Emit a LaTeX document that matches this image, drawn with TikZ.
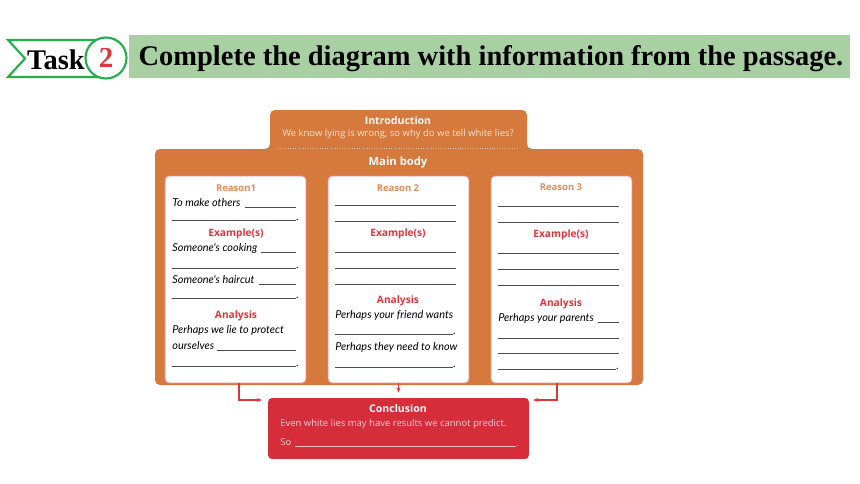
\documentclass[tikz,border=0pt]{standalone}
\usepackage{fontspec}
\setmainfont{Liberation Serif}
\setsansfont{Open Sans}
\newfontfamily\handfont{Lato}
\usetikzlibrary{arrows.meta}
\definecolor{bodyor}{HTML}{D5793D}
\definecolor{conred}{HTML}{D52E3A}
\definecolor{reaor}{HTML}{E38C55}
\definecolor{exred}{HTML}{E0353F}
\definecolor{taskgreen}{HTML}{22B04B}
\definecolor{titlebg}{HTML}{A8D0A2}
\begin{document}
\begin{tikzpicture}[x=0.02cm, y=-0.02cm,
    title/.style={font=\bfseries\fontsize{16.2}{18}\selectfont, inner sep=0pt},
    head/.style={font=\sffamily\bfseries\fontsize{6}{7}\selectfont, text=white, inner sep=0pt},
    pale/.style={font=\sffamily\fontsize{5.4}{6}\selectfont, text=white!80!bodyor, inner sep=0pt},
    reason/.style={font=\sffamily\bfseries\fontsize{5.4}{6}\selectfont, text=reaor, inner sep=0pt},
    sub/.style={font=\sffamily\bfseries\fontsize{5.8}{7}\selectfont, text=exred, inner sep=0pt},
    hand/.style={font=\handfont\itshape\fontsize{6.2}{7}\selectfont, anchor=base west, inner sep=0pt},
    card/.style={draw=exred!55, fill=white, rounded corners=0.08cm, minimum width=2.82cm, minimum height=4.14cm, inner sep=0pt},
    blank/.style={draw=black!70, line width=0.4pt},
    arr/.style={draw=exred, line width=0.6pt, -{Stealth[length=3pt]}}
]
    \useasboundingbox (0,0) rectangle (860,484);

    % Task 2 banner
    \draw[taskgreen, line width=1.2pt, fill=white] (8,40) -- (100,40) -- (100,77) -- (8,77) -- (25,58.5) -- cycle;
    \node[title] (task) at (56,60) {Task};
    \node[draw=taskgreen, line width=1.2pt, fill=white, circle, minimum size=0.82cm, inner sep=0pt,
          font=\bfseries\fontsize{16.5}{18}\selectfont, text=exred] (num) at (106,58) {2};
    \fill[titlebg] (129,35) rectangle (850,78);
    \node[title] (ttl) at (491,59) {Complete the diagram with information from the passage.};

    % Introduction and main body
    \fill[bodyor, rounded corners=0.1cm] (155,385) -- (155,149) -- (270,149) -- (270,110) -- (527,110)
        -- (527,149) -- (643,149) -- (643,385) -- cycle;
    \draw[white!55!bodyor, densely dotted] (278,148) -- (518,148);
    \node[head] (intro) at (398,121) {Introduction};
    \node[pale] (introtxt) at (398,134) {We know lying is wrong, so why do we tell white lies?};
    \node[head, font=\sffamily\bfseries\fontsize{6.4}{7}\selectfont] (main) at (398,163) {Main body};

    \node[card] (r1) at (235.5,279.5) {};
    \node[card] (r2) at (398.5,279.5) {};
    \node[card] (r3) at (561.5,279.5) {};

    % Reason 1
    \node[reason] (rs1) at (236,188) {Reason1};
    \node[hand] (h11) at (172,206) {To make others};
    \draw[blank] (245,207) -- (296,207);
    \draw[blank] (172,220) -- (296,220) node[hand] {.};
    \node[sub] (ex1) at (236,234) {Example(s)};
    \node[hand] (h12) at (172,251) {Someone's cooking};
    \draw[blank] (261,252) -- (296,252);
    \draw[blank] (172,268) -- (296,268) node[hand] {.};
    \node[hand] (h13) at (172,283) {Someone's haircut};
    \draw[blank] (259,284) -- (296,284);
    \draw[blank] (172,298) -- (296,298) node[hand] {.};
    \node[sub] (an1) at (236,316) {Analysis};
    \node[hand] (h14) at (172,333) {Perhaps we lie to protect};
    \node[hand] (h15) at (172,349) {ourselves};
    \draw[blank] (217,350) -- (296,350);
    \draw[blank] (172,366) -- (296,366) node[hand] {.};

    % Reason 2
    \node[reason] (rs2) at (398,188) {Reason 2};
    \foreach \y in {205,221,252,268,284}
        \draw[blank] (335,\y) -- (456,\y);
    \node[sub] (ex2) at (398,234) {Example(s)};
    \node[sub] (an2) at (398,301) {Analysis};
    \node[hand] (h21) at (335,318) {Perhaps your friend wants};
    \draw[blank] (335,334) -- (453,334) node[hand] {.};
    \node[hand] (h22) at (335,350) {Perhaps they need to know};
    \draw[blank] (335,367) -- (453,367) node[hand] {.};

    % Reason 3
    \node[reason] (rs3) at (561,187) {Reason 3};
    \foreach \y in {206,222,253,269,285,338,353}
        \draw[blank] (498,\y) -- (619,\y);
    \node[sub] (ex3) at (561,235) {Example(s)};
    \node[sub] (an3) at (561,304) {Analysis};
    \node[hand] (h31) at (498,321) {Perhaps your parents};
    \draw[blank] (598,322) -- (619,322);
    \draw[blank] (498,369) -- (616,369) node[hand] {.};

    % Conclusion
    \node[fill=conred, rounded corners=0.08cm, minimum width=5.22cm, minimum height=1.22cm, inner sep=0pt] (concl) at (398.5,428.5) {};
    \node[head] (ctitle) at (398,409) {Conclusion};
    \node[pale, text=white!80!conred, anchor=base west] (ctxt) at (280,426) {Even white lies may have results we cannot predict.};
    \node[pale, text=white!80!conred, anchor=base west] (so) at (280,445) {So};
    \draw[white!70!conred, line width=0.4pt] (295,446) -- (516,446) node[pale, text=white!80!conred, anchor=base west] {.};

    \coordinate (c1) at (262,400);
    \coordinate (c3) at (533,400);
    \draw[arr] ([xshift=0.07cm]r1.south) |- (c1);
    \draw[arr, shorten >=0.1cm] (r2.south) -- (concl.north);
    \draw[arr] ([xshift=-0.09cm]r3.south) |- (c3);
\end{tikzpicture}
\end{document}
